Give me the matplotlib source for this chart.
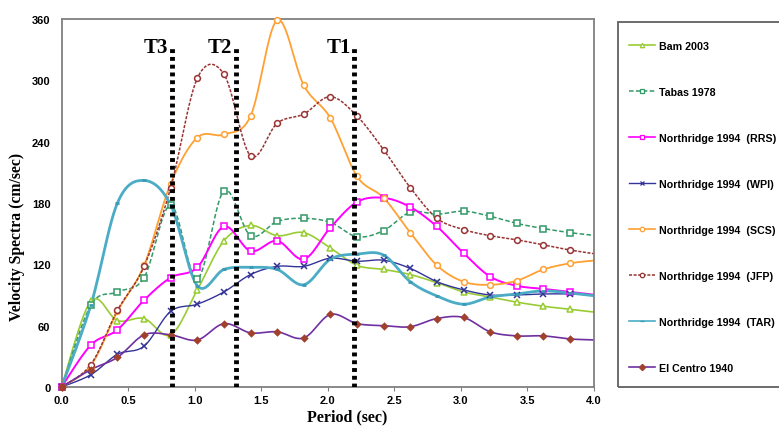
import numpy as np
import matplotlib
matplotlib.use("Agg")
import matplotlib.pyplot as plt
from matplotlib.lines import Line2D
from matplotlib.patches import Rectangle

# Periodos (seg) y espectros de velocidad (cm/seg)
periods = [0.0, 0.22, 0.42, 0.62, 0.82, 1.02, 1.22, 1.42, 1.62, 1.82, 2.02,
           2.22, 2.42, 2.62, 2.82, 3.02, 3.22, 3.42, 3.62, 3.82, 4.02]

bam = [0, 84, 65, 67, 51, 95, 143, 158, 148, 151, 136, 119, 115, 110, 102, 93, 88, 83, 79, 76, 73]
tabas = [0, 80, 93, 107, 178, 106, 192, 148, 162, 165, 161, 147, 153, 171, 169, 172, 167, 160, 155, 151, 148]
rrs = [0, 41, 56, 85, 107, 117, 157, 133, 143, 125, 156, 181, 185, 176, 157, 131, 108, 99, 96, 93, 90]
wpi = [0, 12, 32, 40, 74, 81, 93, 110, 118, 118, 126, 123, 124, 116, 103, 95, 90, 90, 91, 91, 90]
scs = [0, 21, 74, 119, 199, 244, 247, 265, 359, 295, 263, 206, 185, 151, 119, 103, 100, 104, 115, 121, 124]
jfp = [0, 22, 75, 118, 195, 302, 306, 226, 258, 267, 284, 265, 232, 195, 165, 154, 148, 144, 139, 134, 130]
tar = [0, 80, 180, 202, 178, 99, 115, 117, 115, 100, 125, 130, 129, 103, 89, 81, 88, 91, 94, 92, 89]
elcentro = [0, 17, 29, 51, 51, 46, 62, 53, 54, 48, 71, 62, 60, 59, 67, 68, 54, 50, 50, 47, 46]

labels = ["Bam 2003", "Tabas 1978", "Northridge 1994  (RRS)", "Northridge 1994  (WPI)",
          "Northridge 1994  (SCS)", "Northridge 1994  (JFP)", "Northridge 1994  (TAR)",
          "El Centro 1940"]

# Periodos caracteristicos
t_names = ["T3", "T2", "T1"]
t_values = [0.83, 1.31, 2.20]

# estilo de cada serie: color, linea, grosor, marcador, relleno, borde del marcador
styles = [
    ("#99cc33", "-", 1.2, "^", "white", "#99cc33"),
    ("#339966", (0, (3, 1.5)), 1.1, "s", "white", "#339966"),
    ("#ff00ff", "-", 1.4, "s", "white", "#ff00ff"),
    ("#333399", "-", 1.0, "x", "none", "#333399"),
    ("#ffa033", "-", 1.3, "o", "white", "#ffa033"),
    ("#993333", (0, (2, 1)), 1.1, "o", "white", "#993333"),
    ("#4bacc6", "-", 2.0, "_", "#3a9ab5", "#3a9ab5"),
    ("#7030a0", "-", 1.2, "D", "#a0402d", "#a0402d"),
]
series = [bam, tabas, rrs, wpi, scs, jfp, tar, elcentro]


def suavizar(x, y, n=14):
    # curva Catmull-Rom (como la linea suavizada de Excel)
    p = np.column_stack([x, y]).astype(float)
    p = np.vstack([p[0], p, p[-1]])
    xs, ys = [], []
    for i in range(1, len(p) - 2):
        p0, p1, p2, p3 = p[i - 1], p[i], p[i + 1], p[i + 2]
        t = np.linspace(0, 1, n)[:, None]
        c = 0.5 * ((2 * p1) + (-p0 + p2) * t + (2 * p0 - 5 * p1 + 4 * p2 - p3) * t ** 2
                   + (-p0 + 3 * p1 - 3 * p2 + p3) * t ** 3)
        xs.extend(c[:, 0])
        ys.extend(c[:, 1])
    return xs, ys


fig = plt.figure(figsize=(7.79, 4.27), dpi=100)
ax = fig.add_axes([0.079, 0.0913, 0.6835, 0.862])

sans = ["Liberation Sans", "DejaVu Sans"]
serif = ["Liberation Serif", "DejaVu Serif"]

handles = []
x = np.array(periods)
for vals, lab, (col, ls, lw, mk, mfc, mec) in zip(series, labels, styles):
    sx, sy = suavizar(periods, vals)
    ax.plot(sx, sy, color=col, ls=ls, lw=lw, zorder=2)
    keep = x <= 4.0
    ms = 4.2 if mk not in ("D", "_") else 3.2
    mew = 1.1 if mk != "_" else 2
    ax.plot(x[keep], np.array(vals)[keep], ls="none", marker=mk, ms=ms,
            mfc=mfc, mec=mec, mew=mew, clip_on=False, zorder=3)
    handles.append(Line2D([], [], color=col, ls=ls, lw=min(lw, 1.2), marker=mk,
                          ms=3.2, mfc=mfc, mec=mec, mew=0.9))

for name, tv in zip(t_names, t_values):
    ax.plot([tv, tv], [0, 332], color="black", lw=3.5, ls=(0, (0.8, 0.8)), zorder=4)
    ax.text(tv - 0.026, 328, name, ha="right", va="baseline", fontsize=15,
            fontweight="bold", family=serif)

ax.set_xlim(0, 4)
ax.set_ylim(0, 360)
ax.set_xticks(np.arange(0, 4.01, 0.5))
ax.set_yticks(np.arange(0, 361, 60))
ax.set_xticklabels([f"{v:.1f}" for v in np.arange(0, 4.01, 0.5)])
for lbl in ax.get_xticklabels() + ax.get_yticklabels():
    lbl.set_fontweight("bold")
    lbl.set_family(sans)
    lbl.set_fontsize(8)
ax.tick_params(axis="both", length=3, color="#808080", pad=3)
ax.tick_params(axis="y", length=0, pad=8)
for s in ax.spines.values():
    s.set_color("#808080")
    s.set_linewidth(1.3)

fig.text(17 / 779, 1 - 237 / 427, "Velocity Spectra (cm/sec)", rotation=90, ha="center",
         va="center", fontsize=11.3, fontweight="bold", family=serif)
fig.text(347 / 779, 1 - 409 / 427, "Period (sec)", ha="center", va="top",
         fontsize=11.5, fontweight="bold", family=serif)

# cuadro de la leyenda (sale por el borde derecho como en el original)
fig.patches.append(Rectangle((618 / 779, 1 - 388 / 427), 200 / 779, 365.3 / 427,
                             transform=fig.transFigure, fill=False,
                             edgecolor="#606060", lw=1.3))
leg = fig.legend(handles, labels, loc="upper left",
                 bbox_to_anchor=(629 / 779, 1 - 41.5 / 427),
                 borderaxespad=0, prop={"family": sans, "weight": "bold", "size": 7.7},
                 labelspacing=3.37, borderpad=0, handlelength=2.43, handletextpad=0.37,
                 frameon=False)

fig.savefig("out.png", dpi=100)
